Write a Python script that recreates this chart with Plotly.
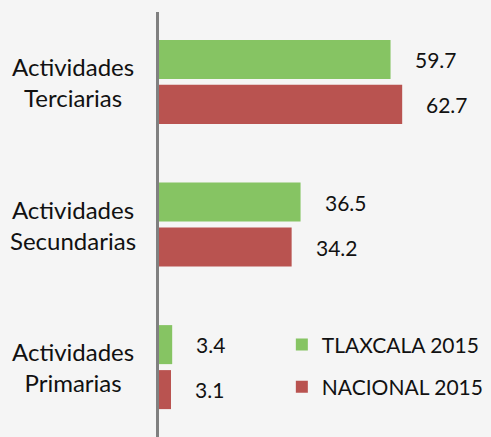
import plotly.graph_objects as go

categories = ["Actividades Terciarias", "Actividades Secundarias", "Actividades Primarias"]
tlaxcala = [59.7, 36.5, 3.4]
nacional = [62.7, 34.2, 3.1]
series_names = ["TLAXCALA 2015", "NACIONAL 2015"]
colors = ["#86C463", "#B95350"]

FONT = "Lato"
fig = go.Figure()
for name, vals, col, grp in zip(series_names, [tlaxcala, nacional], colors, ["a", "b"]):
    fig.add_trace(go.Bar(
        y=categories, x=vals, orientation="h", name=name,
        marker=dict(color=col, line=dict(width=0)),
        legendgroup=grp, hoverinfo="skip",
    ))

# value labels
for vals, shift in zip([tlaxcala, nacional], [22.5, -22.5]):
    for c, v in zip(categories, vals):
        fig.add_annotation(x=v, y=c, xref="x", yref="y", text=f"{v:.1f}",
                           showarrow=False, xanchor="left", yanchor="middle",
                           xshift=22, yshift=shift,
                           font=dict(family=FONT, size=21, color="#111111"))

# category labels
for c in categories:
    fig.add_annotation(x=-0.258, y=c, xref="paper", yref="y",
                       text=c.replace(" ", "<br>"), showarrow=False,
                       xanchor="center", yanchor="middle", align="center",
                       font=dict(family=FONT, size=24, color="#111111"))

fig.update_layout(
    width=491, height=437,
    margin=dict(l=159, r=0, t=12, b=0, autoexpand=False),
    paper_bgcolor="#f5f5f5", plot_bgcolor="#f5f5f5",
    barmode="group", bargap=0.369, bargroupgap=0.133,
    showlegend=True,
    legend=dict(x=0.37, y=0.265, xanchor="left", yanchor="top",
                traceorder="grouped", tracegroupgap=12,
                bgcolor="rgba(0,0,0,0)",
                font=dict(family=FONT, size=21, color="#111111")),
    font=dict(family=FONT),
)
fig.update_xaxes(range=[0, 85.6], showgrid=False, zeroline=False,
                 showticklabels=False, showline=False, fixedrange=True)
fig.update_yaxes(type="category", range=[2.49, -0.49], autorange=False,
                 showgrid=False, zeroline=False, showticklabels=False,
                 showline=True, linecolor="#808080", linewidth=3, ticks="",
                 fixedrange=True)

fig.write_html("out.html", config={"displayModeBar": False},
               post_script="document.body.style.margin='0';document.body.style.background='#f5f5f5';")
